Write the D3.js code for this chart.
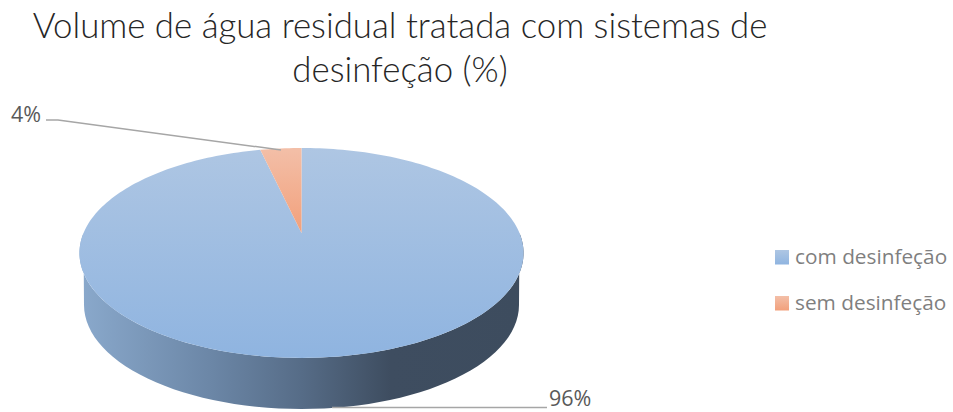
<!DOCTYPE html>
<html><head><meta charset="utf-8">
<script src="https://cdn.jsdelivr.net/npm/d3@7"></script>
<style>html,body{margin:0;padding:0;background:#fff}svg{display:block}</style>
</head><body><svg id="c" width="953" height="412"></svg>
<script>
const categories = ["com desinfeção", "sem desinfeção"];
const values = [96.4, 3.6];
const titleLines = ["Volume de água residual tratada com sistemas de", "desinfeção (%)"];

const svg = d3.select("#c");
const defs = svg.append("defs");
function grad(id, stops, x1, y1, x2, y2) {
  const g = defs.append("linearGradient").attr("id", id)
    .attr("x1", x1).attr("y1", y1).attr("x2", x2).attr("y2", y2);
  stops.forEach(s => g.append("stop").attr("offset", s[0]).attr("stop-color", s[1]));
}
defs.append("linearGradient").attr("id", "gBlue").attr("gradientUnits", "userSpaceOnUse")
  .attr("x1", 0).attr("y1", 148).attr("x2", 0).attr("y2", 358)
  .call(g => { g.append("stop").attr("offset", 0).attr("stop-color", "#aec6e3");
               g.append("stop").attr("offset", 1).attr("stop-color", "#8fb4e0"); });
grad("gOrange", [[0, "#f3bfa8"], [1, "#f2a07b"]], 0, 0, 0, 1);
grad("gSide", [[0, "#8aa9cc"], [0.3, "#6b86a6"], [0.5, "#566c87"], [0.7, "#3e4d60"], [1, "#3d4c5e"]], 0, 0, 1, 0);
grad("lBlue", [[0, "#aec6e3"], [1, "#8fb4e0"]], 0, 0, 0, 1);
grad("lOrange", [[0, "#f3bfa8"], [1, "#f2a07b"]], 0, 0, 0, 1);

// Perspective projection of the pie's unit circle onto the page
const cx = 301.5, apexY = 233, k = 0.19, bY = -56.9, X = 218;
const project = (r, a) => {
  const s = r * Math.sin(a), c = r * Math.cos(a), w = 1 + k * c;
  return [cx + X * s / w, (apexY + bY * c) / w];
};
const pie = d3.pie().sort(null)(values);
const lineGen = d3.line();
const arcs = pie.map(d => {
  const n = Math.max(8, Math.ceil((d.endAngle - d.startAngle) * 40));
  const pts = d3.range(n + 1).map(i => project(1, d.startAngle + (d.endAngle - d.startAngle) * i / n));
  return { d, pts };
});

// Side wall: lower half of the bottom rim joined to the lower half of the top rim
const wallCx = cx, wallRx = 217.5, wallRy = 104, wallCy = 305;
const bottomRim = d3.range(0, 181, 3).map(t => {
  const a = Math.PI * t / 180;
  return [wallCx - wallRx * Math.cos(a), wallCy + wallRy * Math.sin(a)];
});
const topRim = d3.range(90, 271, 2).map(t => project(1, Math.PI * t / 180));
svg.append("path")
  .attr("d", lineGen(bottomRim.concat(topRim)) + "Z")
  .attr("fill", "url(#gSide)");

// Top face
const fills = ["url(#gBlue)", "url(#gOrange)"];
svg.selectAll("path.slice").data(arcs).join("path").attr("class", "slice")
  .attr("d", a => lineGen([project(0, 0), ...a.pts]) + "Z")
  .attr("fill", (a, i) => fills[i]);

// Leader lines
const leaderColor = "#a6a6a6";
svg.append("path").attr("fill", "none").attr("stroke", leaderColor).attr("stroke-width", 1.5)
  .attr("d", lineGen([[46, 120], [58, 120], [281, 150]]));
svg.append("path").attr("fill", "none").attr("stroke", leaderColor).attr("stroke-width", 1.5)
  .attr("d", lineGen([[332, 407.5], [547, 407.5]]));

// Data labels
const pct = d3.format(".0f");
const labelPos = [[549, 405.5], [11, 122]];
svg.selectAll("text.lab").data(values).join("text").attr("class", "lab")
  .attr("x", (d, i) => labelPos[i][0]).attr("y", (d, i) => labelPos[i][1])
  .attr("font-family", "'Open Sans', sans-serif").attr("font-size", 21.5)
  .attr("fill", "#595959").text(d => pct(d) + "%");

// Title
svg.selectAll("text.title").data(titleLines).join("text").attr("class", "title")
  .attr("x", 400).attr("y", (d, i) => 38 + i * 43.5)
  .attr("text-anchor", "middle")
  .attr("font-family", "Lato, sans-serif").attr("font-weight", 300).attr("font-size", 34.8)
  .attr("fill", "#262626").text(d => d);

// Legend
const legFill = ["url(#lBlue)", "url(#lOrange)"];
const legY = [250, 296];
const leg = svg.selectAll("g.leg").data(categories).join("g").attr("class", "leg")
  .attr("transform", (d, i) => `translate(775,${legY[i]})`);
leg.append("rect").attr("width", 14).attr("height", 14.5).attr("fill", (d, i) => legFill[i]);
leg.append("text").attr("x", 20).attr("y", 14)
  .attr("font-family", "'Open Sans', sans-serif").attr("font-size", 20.8)
  .attr("fill", "#7f7f7f").text(d => d);
</script></body></html>
